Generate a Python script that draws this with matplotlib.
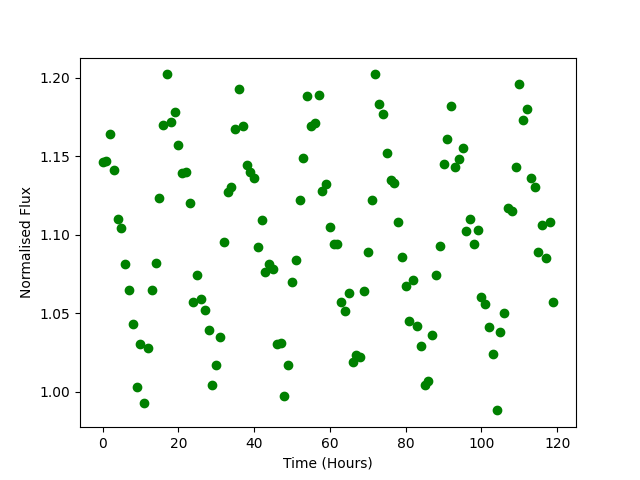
import matplotlib
matplotlib.use('Agg')
import matplotlib.pyplot as plt
import numpy as np

hours = np.arange(120)
flux = [
    1.146, 1.147, 1.164, 1.141, 1.110, 1.104, 1.081, 1.065, 1.043, 1.003,
    1.030, 0.993, 1.028, 1.065, 1.082, 1.123, 1.170, 1.202, 1.172, 1.178,
    1.157, 1.139, 1.140, 1.120, 1.057, 1.074, 1.059, 1.052, 1.039, 1.004,
    1.017, 1.035, 1.095, 1.127, 1.130, 1.167, 1.193, 1.169, 1.144, 1.140,
    1.136, 1.092, 1.109, 1.076, 1.081, 1.078, 1.030, 1.031, 0.997, 1.017,
    1.070, 1.084, 1.122, 1.149, 1.188, 1.169, 1.171, 1.189, 1.128, 1.132,
    1.105, 1.094, 1.094, 1.057, 1.051, 1.063, 1.019, 1.023, 1.022, 1.064,
    1.089, 1.122, 1.202, 1.183, 1.177, 1.152, 1.135, 1.133, 1.108, 1.086,
    1.067, 1.045, 1.071, 1.042, 1.029, 1.004, 1.007, 1.036, 1.074, 1.093,
    1.145, 1.161, 1.182, 1.143, 1.148, 1.155, 1.102, 1.110, 1.094, 1.103,
    1.060, 1.056, 1.041, 1.024, 0.988, 1.038, 1.050, 1.117, 1.115, 1.143,
    1.196, 1.173, 1.180, 1.136, 1.130, 1.089, 1.106, 1.085, 1.108, 1.057,
]

fig, ax = plt.subplots(figsize=(6.4, 4.8), dpi=100)
ax.plot(hours, flux, 'go')
ax.set_xlabel('Time (Hours)')
ax.set_ylabel('Normalised Flux')
plt.savefig('out.png')
